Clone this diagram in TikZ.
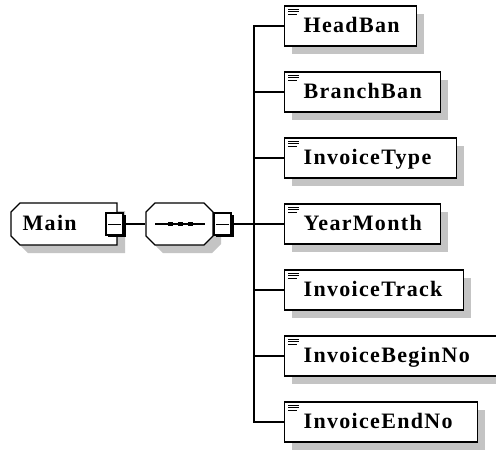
\documentclass[tikz,border=0pt]{standalone}
\usepackage{fontspec}
\setmainfont{Liberation Serif}
\newfontfamily\xsfont[LetterSpace=6]{Liberation Serif}
\definecolor{shadowgray}{RGB}{196,196,196}
\newcommand\xchild[4]{%
  \fill[shadowgray] (292,#2-12) rectangle (284+#3+8,#2+28);
  \node[childbox, text width=#3pt] (#1) at (284,#2) {\hspace*{19pt}#4};
  \draw[iconline] ([shift={(4,4)}]#1.north west) -- ++(11,0);
  \draw[iconline] ([shift={(4,6.5)}]#1.north west) -- ++(11,0);
  \draw[iconline] ([shift={(4,9)}]#1.north west) -- ++(9,0);
}
\begin{document}
\begin{tikzpicture}[x=1pt,y=-1pt,line width=1.3pt,
  lbl/.style={font=\xsfont\bfseries\fontsize{22}{26}\selectfont},
  childbox/.style={draw=black, fill=white, line width=1.3pt, anchor=west,
    minimum height=40pt, inner sep=0pt, text height=15pt, text depth=3pt,
    align=left, lbl},
  minusbox/.style={draw=black, fill=white, line width=1.2pt,
    minimum width=17pt, minimum height=22pt, inner sep=0pt},
  iconline/.style={line width=0.9pt, black},
  conn/.style={line width=1.3pt, draw=black}]
\useasboundingbox (0,0) rectangle (496,451);
\fill[white] (0,0) rectangle (496,451);

% Main element
\fill[shadowgray] (28,211) -- (125,211) -- (125,253) -- (28,253) -- (19,244) -- (19,220) -- cycle;
\draw[fill=white] (20,203) -- (117,203) -- (117,245) -- (20,245) -- (11,236) -- (11,212) -- cycle;
\node[lbl, anchor=base west, inner sep=0pt] (main) at (22,230) {Main};
\fill[black] (108,215) rectangle (125.5,237);
\node[minusbox] (mmin) at (114.5,224) {};
\draw[line width=1pt] ([xshift=3pt]mmin.west) -- ([xshift=-3pt]mmin.east);

% Sequence compositor
\fill[shadowgray] (163,211) -- (212,211) -- (221,220) -- (221,244) -- (212,253) -- (163,253) -- (154,244) -- (154,220) -- cycle;
\draw[fill=white] (155,203) -- (204,203) -- (213,212) -- (213,236) -- (204,245) -- (155,245) -- (146,236) -- (146,212) -- cycle;
\node[minimum width=67pt, minimum height=42pt, inner sep=0pt] (seq) at (179.5,224) {};
\draw[line width=1.2pt] (155,224) -- (205,224);
\fill[black] (168,222) rectangle (173,226);
\fill[black] (178,222) rectangle (183,226);
\fill[black] (188,222) rectangle (193,226);
\fill[black] (216,215) rectangle (233.5,237);
\node[minusbox] (smin) at (222.5,224) {};
\draw[line width=1pt] ([xshift=3pt]smin.west) -- ([xshift=-3pt]smin.east);

\coordinate (trunk) at (254,224);

% children
\xchild{c1}{26}{132}{HeadBan}
\xchild{c2}{92}{156}{BranchBan}
\xchild{c3}{158}{172}{InvoiceType}
\xchild{c4}{224}{156}{YearMonth}
\xchild{c5}{290}{179}{InvoiceTrack}
\xchild{c6}{356}{214}{InvoiceBeginNo}
\xchild{c7}{422}{193}{InvoiceEndNo}

% connectors
\draw[conn] (mmin.east) -- (seq.west);
\draw[conn] (smin.east) -- (trunk);
\foreach \c in {c1,c2,c3,c4,c5,c6,c7}
  \draw[conn] (trunk) |- (\c.west);
\end{tikzpicture}
\end{document}
